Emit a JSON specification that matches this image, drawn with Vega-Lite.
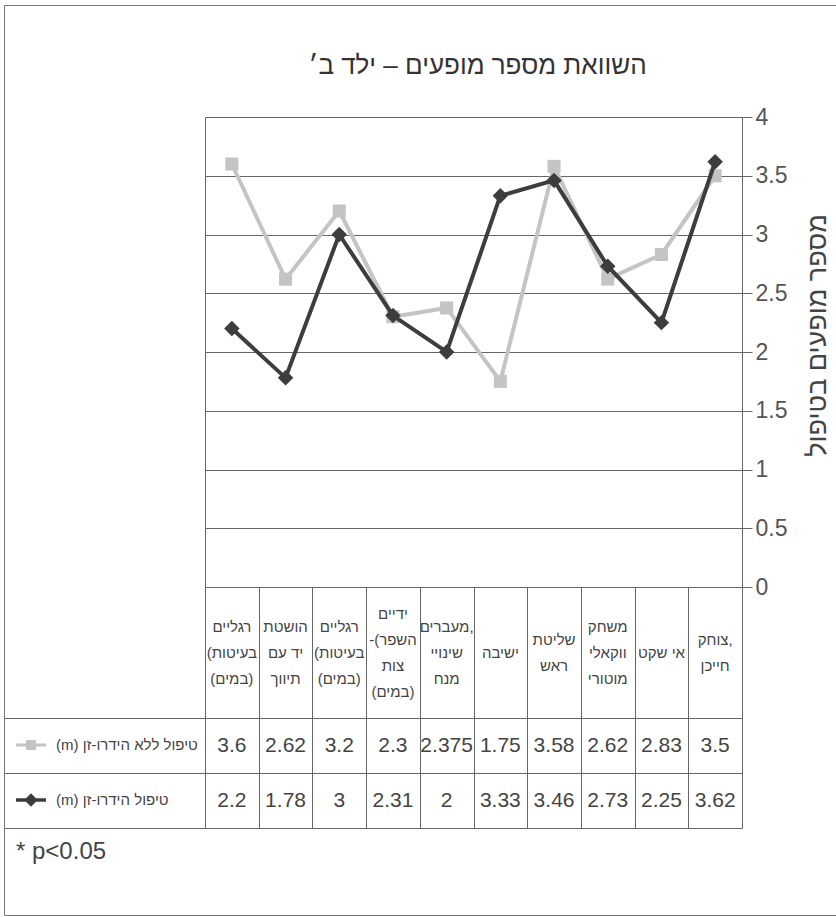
{
  "$schema": "https://vega.github.io/schema/vega-lite/v6.json",
  "width": 833,
  "height": 910,
  "autosize": "none",
  "padding": {"left": 4, "top": 5, "right": -1, "bottom": 2},
  "title": {
    "text": "השוואת מספר מופעים – ילד ב׳",
    "anchor": "middle",
    "frame": "group",
    "dx": 57,
    "offset": -95,
    "baseline": "alphabetic",
    "fontSize": 26,
    "fontWeight": "normal",
    "color": "#333"
  },
  "data": {
    "values": [
      {"cat": "רגליים|(בעיטות|(במים)", "series": "(m) טיפול ללא הידרו-זן", "value": 3.6},
      {"cat": "הושטת|יד עם|תיווך", "series": "(m) טיפול ללא הידרו-זן", "value": 2.62},
      {"cat": "רגליים|(בעיטות|(במים) ", "series": "(m) טיפול ללא הידרו-זן", "value": 3.2},
      {"cat": "ידיים|-(השפר|צות|(במים)", "series": "(m) טיפול ללא הידרו-זן", "value": 2.3},
      {"cat": "מעברים,|שינויי|מנח", "series": "(m) טיפול ללא הידרו-זן", "value": 2.375},
      {"cat": "ישיבה", "series": "(m) טיפול ללא הידרו-זן", "value": 1.75},
      {"cat": "שליטת|ראש", "series": "(m) טיפול ללא הידרו-זן", "value": 3.58},
      {"cat": "משחק|ווקאלי|מוטורי", "series": "(m) טיפול ללא הידרו-זן", "value": 2.62},
      {"cat": "אי שקט", "series": "(m) טיפול ללא הידרו-זן", "value": 2.83},
      {"cat": "צוחק,|חייכן", "series": "(m) טיפול ללא הידרו-זן", "value": 3.5},
      {"cat": "רגליים|(בעיטות|(במים)", "series": "(m) טיפול הידרו-זן", "value": 2.2},
      {"cat": "הושטת|יד עם|תיווך", "series": "(m) טיפול הידרו-זן", "value": 1.78},
      {"cat": "רגליים|(בעיטות|(במים) ", "series": "(m) טיפול הידרו-זן", "value": 3},
      {"cat": "ידיים|-(השפר|צות|(במים)", "series": "(m) טיפול הידרו-זן", "value": 2.31},
      {"cat": "מעברים,|שינויי|מנח", "series": "(m) טיפול הידרו-זן", "value": 2},
      {"cat": "ישיבה", "series": "(m) טיפול הידרו-זן", "value": 3.33},
      {"cat": "שליטת|ראש", "series": "(m) טיפול הידרו-זן", "value": 3.46},
      {"cat": "משחק|ווקאלי|מוטורי", "series": "(m) טיפול הידרו-זן", "value": 2.73},
      {"cat": "אי שקט", "series": "(m) טיפול הידרו-זן", "value": 2.25},
      {"cat": "צוחק,|חייכן", "series": "(m) טיפול הידרו-זן", "value": 3.62}
    ]
  },
  "encoding": {
    "x": {
      "field": "cat",
      "type": "nominal",
      "sort": null,
      "scale": {"type": "band", "range": [201, 738], "paddingInner": 0, "paddingOuter": 0},
      "axis": {
        "orient": "bottom",
        "offset": -328,
        "title": null,
        "domain": false,
        "grid": false,
        "labels": false,
        "ticks": true,
        "tickBand": "extent",
        "tickSize": 241,
        "tickColor": "#666",
        "tickWidth": 1
      }
    }
  },
  "layer": [
    {
      "transform": [
        {"filter": "indexof(datum.series, 'ללא') >= 0"},
        {"calculate": "split(datum.cat, '|')", "as": "lines"}
      ],
      "mark": {
        "type": "text",
        "fontSize": 15,
        "color": "#444",
        "baseline": "middle",
        "align": "center",
        "lineHeight": 26,
        "dy": {"expr": "-(length(datum.lines) - 1) * 13"}
      },
      "encoding": {
        "y": {
          "datum": "header",
          "type": "nominal",
          "scale": {"type": "band", "range": [582, 713], "paddingInner": 0, "paddingOuter": 0},
          "axis": null
        },
        "text": {"field": "lines", "type": "nominal"}
      }
    },
    {
      "mark": {"type": "text", "fontSize": 21, "color": "#444", "baseline": "middle", "align": "center"},
      "encoding": {
        "y": {
          "field": "series",
          "type": "nominal",
          "sort": null,
          "scale": {"type": "band", "range": [713, 823], "paddingInner": 0, "paddingOuter": 0},
          "axis": {
            "orient": "left",
            "offset": -201,
            "title": null,
            "labels": false,
            "domain": false,
            "ticks": true,
            "tickBand": "extent",
            "tickSize": 201,
            "tickColor": "#666",
            "grid": true,
            "gridColor": "#666",
            "gridOpacity": 1
          }
        },
        "text": {"field": "value", "type": "nominal"}
      }
    },
    {
      "transform": [{"filter": "indexof(datum.series, 'ללא') >= 0"}],
      "encoding": {
        "y": {
          "field": "value",
          "type": "quantitative",
          "scale": {"domain": [0, 4], "range": [582, 112], "nice": false, "zero": false},
          "axis": {
            "orient": "left",
            "offset": -201,
            "title": null,
            "values": [0, 0.5, 1, 1.5, 2, 2.5, 3, 3.5, 4],
            "labels": false,
            "ticks": false,
            "grid": true,
            "gridColor": "#666",
            "gridOpacity": 1,
            "domain": true,
            "domainColor": "#666"
          }
        }
      },
      "layer": [
        {"mark": {"type": "line", "color": "#c4c4c4", "strokeWidth": 4}},
        {
          "mark": {"type": "point", "shape": "square", "filled": true, "size": 170, "opacity": 1},
          "encoding": {
            "color": {
              "field": "series",
              "type": "nominal",
              "scale": {"range": ["#c4c4c4"]},
              "legend": {
                "orient": "none",
                "legendX": 12,
                "legendY": 725,
                "padding": 0,
                "title": null,
                "symbolType": "M-1,-0.1L1,-0.1L1,0.1L-1,0.1Z M-0.33,-0.33L0.33,-0.33L0.33,0.33L-0.33,0.33Z",
                "symbolSize": 900,
                "symbolStrokeWidth": 0,
                "labelFontSize": 15,
                "labelColor": "#444",
                "labelOffset": 10,
                "labelLimit": 0
              }
            }
          }
        }
      ]
    },
    {
      "transform": [{"filter": "indexof(datum.series, 'ללא') < 0"}],
      "encoding": {
        "y": {
          "field": "value",
          "type": "quantitative",
          "scale": {"domain": [0, 4], "range": [582, 112], "nice": false, "zero": false},
          "axis": {
            "orient": "right",
            "offset": -95,
            "values": [0, 0.5, 1, 1.5, 2, 2.5, 3, 3.5, 4],
            "labelExpr": "'' + datum.value",
            "domain": true,
            "domainColor": "#666",
            "ticks": true,
            "tickSize": 10,
            "tickColor": "#666",
            "grid": false,
            "labelFontSize": 23,
            "labelColor": "#555",
            "labelPadding": 3,
            "labelAlign": "left",
            "labelBaseline": "middle",
            "labelBound": false,
            "labelFlush": false,
            "title": "מספר מופעים בטיפול",
            "titleAngle": 270,
            "titleFontSize": 27,
            "titleFontWeight": "normal",
            "titleColor": "#444",
            "titleX": 75,
            "titleY": 330,
            "titleAlign": "center",
            "titleBaseline": "middle"
          }
        }
      },
      "layer": [
        {"mark": {"type": "line", "color": "#3d3d3d", "strokeWidth": 4}},
        {
          "mark": {"type": "point", "shape": "diamond", "filled": true, "size": 240, "opacity": 1},
          "encoding": {
            "color": {
              "field": "series",
              "type": "nominal",
              "scale": {"range": ["#3d3d3d"]},
              "legend": {
                "orient": "none",
                "legendX": 12,
                "legendY": 780,
                "padding": 0,
                "title": "* p<0.05",
                "titleOrient": "bottom",
                "titleAnchor": "start",
                "titleFontSize": 24,
                "titleFontWeight": "normal",
                "titleColor": "#444",
                "titlePadding": 32,
                "symbolType": "M-1,-0.12L1,-0.12L1,0.12L-1,0.12Z M0,-0.45L0.45,0L0,0.45L-0.45,0Z",
                "symbolSize": 900,
                "symbolStrokeWidth": 0,
                "labelFontSize": 15,
                "labelColor": "#444",
                "labelOffset": 10,
                "labelLimit": 0
              }
            }
          }
        }
      ]
    }
  ],
  "resolve": {"scale": {"y": "independent", "color": "independent"}},
  "config": {
    "font": "Liberation Sans",
    "view": {"stroke": "#777", "strokeWidth": 1},
    "text": {"font": "Liberation Sans"}
  }
}
